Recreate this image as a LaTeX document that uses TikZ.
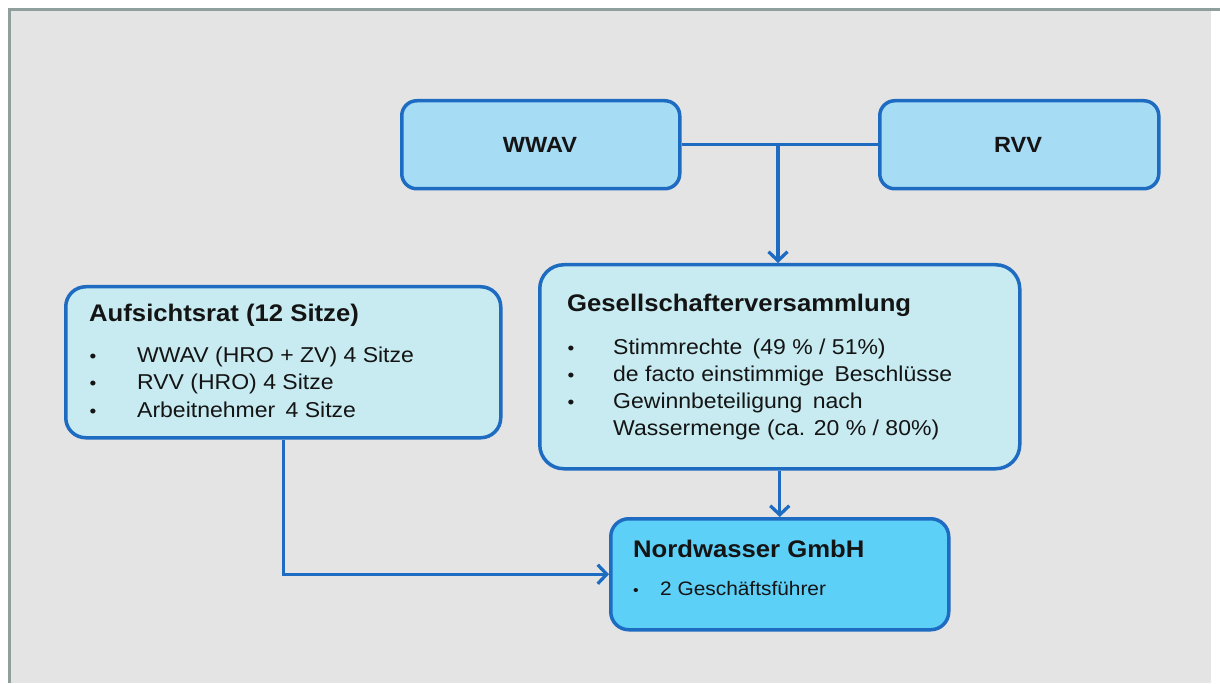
\documentclass[tikz,border=0pt]{standalone}
\usepackage{fontspec}
\setmainfont{Liberation Sans}[FakeStretch=1.07]
\usetikzlibrary{arrows.meta}
\definecolor{bgc}{HTML}{E4E4E4}
\definecolor{framec}{HTML}{8E9F9C}
\definecolor{edgec}{HTML}{1E6CC2}
\definecolor{topfill}{HTML}{A7DCF5}
\definecolor{midfill}{HTML}{C7EBF1}
\definecolor{nwfill}{HTML}{5DD0F8}
\definecolor{txtc}{HTML}{141414}
\begin{document}
\begin{tikzpicture}[x=1pt,y=-1pt,
  box/.style={draw=edgec, line width=3.5pt, rounded corners=15pt, inner sep=0pt, anchor=north west},
  conn/.style={draw=edgec, line width=3.3pt},
  arr/.style={conn, -{Straight Barb[length=9pt,width=19pt]}},
  ttl/.style={anchor=base west, inner sep=0pt, text=txtc, font=\bfseries\fontsize{24}{28}\selectfont},
  itm/.style={anchor=base west, inner sep=0pt, text=txtc, font=\fontsize{21.5}{26}\selectfont},
  bul/.style={anchor=base, inner sep=0pt, text=txtc, font=\fontsize{18}{22}\selectfont},
  hdr/.style={inner sep=0pt, text=txtc, font=\bfseries\fontsize{22}{26}\selectfont}
]
\useasboundingbox (0,0) rectangle (1220,684);
\fill[white] (0,0) rectangle (1220,684);
\fill[bgc] (9,9) rectangle (1211,683);
\draw[framec, line width=3pt] (9.5,683) -- (9.5,9.5) -- (1220,9.5);

% top boxes
\node[box, fill=topfill, minimum width=278pt, minimum height=88pt] (wwav) at (400,99) {};
\node[box, fill=topfill, minimum width=279pt, minimum height=88pt] (rvv) at (878,99) {};
\node[hdr] (twwav) at (540,145) {WWAV};
\node[hdr] (trvv) at (1018,145) {RVV};

% middle boxes
\node[box, fill=midfill, minimum width=435pt, minimum height=151pt, rounded corners=20pt] (aufs) at (64,285) {};
\node[box, fill=midfill, minimum width=480pt, minimum height=204pt, rounded corners=24pt] (ges) at (538,263) {};

% bottom box
\node[box, fill=nwfill, minimum width=338pt, minimum height=111pt, rounded corners=18pt] (nw) at (609,517) {};

% connectors
\coordinate (junc) at (778,143);
\draw[conn] (wwav.east) -- (rvv.west);
\draw[arr] (junc) -- (junc |- ges.north);
\draw[arr] (ges.south) -- (nw.north);
\draw[arr] (aufs.south) |- (nw.west);

% Aufsichtsrat text
\node[ttl] (a0) at (89,322) {Aufsichtsrat (12 Sitze)};
\node[bul] (ab1) at (93,362) {\textbullet};
\node[itm] (a1) at (137,362) {WWAV (HRO + ZV) 4 Sitze};
\node[bul] (ab2) at (93,389) {\textbullet};
\node[itm] (a2) at (137,389) {RVV (HRO) 4 Sitze};
\node[bul] (ab3) at (93,417) {\textbullet};
\node[itm] (a3) at (137,417) {Arbeitnehmer\hspace{4pt} 4 Sitze};

% Gesellschafterversammlung text
\node[ttl] (g0) at (567,312) {Gesellschafterversammlung};
\node[bul] (gb1) at (571,355) {\textbullet};
\node[itm] (g1) at (613,355) {Stimmrechte\hspace{4pt} (49 \% / 51\%)};
\node[bul] (gb2) at (571,381) {\textbullet};
\node[itm] (g2) at (613,381) {de facto einstimmige\hspace{4pt} Beschlüsse};
\node[bul] (gb3) at (571,408) {\textbullet};
\node[itm] (g3) at (613,408) {Gewinnbeteiligung\hspace{4pt} nach};
\node[itm] (g4) at (613,435) {Wassermenge (ca. 20 \% / 80\%)};

% Nordwasser text
\node[ttl] (n0) at (633,557) {Nordwasser GmbH};
\node[bul, font=\fontsize{15}{18}\selectfont] (nb1) at (636,595) {\textbullet};
\node[itm, font=\fontsize{19.5}{24}\selectfont] (n1) at (660,595) {2 Geschäftsführer};
\end{tikzpicture}
\end{document}
